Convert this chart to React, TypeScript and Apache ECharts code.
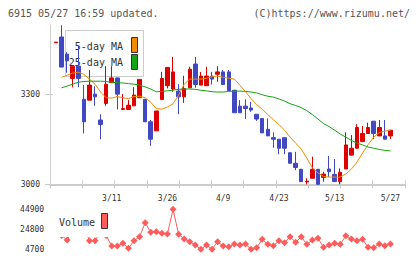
import React, { useEffect, useRef } from 'react';
import * as echarts from 'echarts';

// Trading days shown on the chart
const dates = [
  '2/26', '2/27', '2/28', '2/29', '3/1', '3/4', '3/5', '3/6', '3/7', '3/8',
  '3/11', '3/12', '3/13', '3/14', '3/15', '3/18', '3/19', '3/21', '3/22', '3/25',
  '3/26', '3/27', '3/28', '3/29', '4/1', '4/2', '4/3', '4/4', '4/5', '4/8',
  '4/9', '4/10', '4/11', '4/12', '4/15', '4/16', '4/17', '4/18', '4/19', '4/22',
  '4/23', '4/24', '4/25', '4/26', '4/30', '5/1', '5/7', '5/8', '5/9', '5/10',
  '5/13', '5/14', '5/15', '5/16', '5/17', '5/20', '5/21', '5/22', '5/23', '5/24',
  '5/27',
];
const dateTicks = ['3/11', '3/26', '4/9', '4/23', '5/13', '5/27'];

const opens = [
  3471, 3490, 3433, 3352, 3393, 3283, 3280, 3300, 3214, 3269,
  3338, 3354, 3249, 3249, 3261, 3288, 3283, 3208, 3178, 3282,
  3328, 3317, 3310, 3291, 3321, 3400, 3330, 3328, 3360, 3366,
  3374, 3374, 3313, 3260, 3260, 3254, 3233, 3219, 3183, 3155,
  3150, 3155, 3105, 3070, 3050, 3008, 3020, 3050, 3023, 3051,
  3033, 3009, 3051, 3097, 3120, 3142, 3169, 3210, 3161, 3161,
  3161,
];
const closes = [
  3473, 3390, 3411, 3393, 3352, 3208, 3330, 3291, 3199, 3333,
  3354, 3300, 3252, 3263, 3297, 3349, 3208, 3150, 3244, 3352,
  3389, 3374, 3291, 3319, 3383, 3332, 3360, 3360, 3350, 3374,
  3332, 3311, 3238, 3238, 3252, 3247, 3217, 3171, 3161, 3150,
  3120, 3120, 3070, 3056, 3009, 3010, 3050, 3000, 3034, 3042,
  3009, 3040, 3131, 3120, 3189, 3169, 3189, 3169, 3189, 3150,
  3180,
];
const lows = [
  3471, 3390, 3371, 3323, 3323, 3169, 3280, 3261, 3150, 3261,
  3338, 3249, 3249, 3249, 3261, 3288, 3208, 3128, 3178, 3282,
  3319, 3308, 3233, 3271, 3321, 3321, 3330, 3328, 3332, 3341,
  3332, 3311, 3238, 3238, 3217, 3241, 3211, 3171, 3161, 3122,
  3100, 3100, 3070, 3047, 3009, 3000, 3020, 3000, 3009, 3025,
  3009, 3000, 3051, 3097, 3120, 3142, 3169, 3150, 3161, 3150,
  3151,
];
const highs = [
  3473, 3529, 3440, 3393, 3460, 3330, 3380, 3326, 3233, 3393,
  3393, 3354, 3300, 3280, 3323, 3349, 3283, 3214, 3244, 3374,
  3389, 3424, 3333, 3361, 3391, 3424, 3374, 3391, 3374, 3393,
  3380, 3380, 3313, 3280, 3283, 3274, 3233, 3219, 3219, 3173,
  3150, 3155, 3105, 3108, 3050, 3020, 3092, 3050, 3042, 3094,
  3084, 3053, 3173, 3164, 3200, 3194, 3205, 3210, 3214, 3214,
  3180,
];

const ma5 = [
  null, 3356, 3363, 3370, 3373, 3366, 3350, 3333, 3307, 3288,
  3287, 3292, 3288, 3285, 3292, 3293, 3288, 3273, 3252, 3250,
  3257, 3268, 3297, 3333, 3350, 3350, 3350, 3353, 3358, 3360,
  3356, 3353, 3350, 3330, 3308, 3285, 3265, 3250, 3232, 3215,
  3199, 3180, 3157, 3137, 3117, 3087, 3054, 3038, 3026, 3024,
  3024, 3024, 3034, 3051, 3074, 3104, 3132, 3157, 3172, 3177,
  3180,
];
const ma25 = [
  null, 3321, 3327, 3333, 3340, 3342, 3343, 3343, 3343, 3342,
  3340, 3338, 3337, 3335, 3333, 3330, 3324, 3317, 3308, 3309,
  3311, 3313, 3316, 3317, 3317, 3316, 3313, 3311, 3308, 3307,
  3307, 3309, 3310, 3310, 3309, 3307, 3304, 3298, 3293, 3290,
  3284, 3277, 3268, 3262, 3255, 3245, 3232, 3217, 3202, 3192,
  3180, 3167, 3157, 3146, 3137, 3131, 3124, 3120, 3116, 3113,
  3111,
];
const volume = [
  21000, 18300, 13700, 23800, 22800, 27800, 13000, 13000, 21800, 18300,
  7700, 7700, 10400, 5400, 13000, 17100, 31100, 21500, 22100, 20500,
  19800, 44600, 19500, 14800, 12000, 8700, 4400, 8700, 4400, 12000,
  7700, 7000, 9700, 8700, 9700, 4400, 6000, 14500, 9400, 8000,
  13000, 11000, 17100, 11400, 17100, 9400, 13700, 15500, 6400, 8700,
  10400, 9400, 18100, 14800, 13000, 14500, 6400, 6000, 9700, 8000,
  9700,
];

const priceTicks = [3000, 3300];
const volumeTicks = [4700, 24800, 44900];

const FONT = '"DejaVu Sans Mono", monospace';
const RED = '#dd0000';
const BLUE = '#4048c4';
const ORANGE = '#f08c00';
const GREEN = '#14a514';
const VOL = '#ff5c5c';
const AXIS = '#cccccc';
const LABEL = '#333333';

const PRICE_MIN = 3000;
const PRICE_MAX = 3530;

export default function App() {
  const ref = useRef<HTMLDivElement>(null);

  useEffect(() => {
    const chart = echarts.init(ref.current!, null, { renderer: 'svg', width: 420, height: 259 });
    const candles = dates.map((_, i) => [opens[i], closes[i], lows[i], highs[i]]);
    const labelStyle = { fontFamily: FONT, fontSize: 8, color: LABEL };

    chart.setOption({
      animation: false,
      backgroundColor: '#ffffff',
      textStyle: { fontFamily: FONT },
      grid: [
        { left: 53.2, width: 340, top: 25, height: 159.3 },
        { left: 50, width: 355, top: 25, height: 159.3 },
        { left: 53.2, width: 340, top: 209, height: 40 },
      ],
      xAxis: [
        {
          type: 'category',
          gridIndex: 0,
          data: dates,
          boundaryGap: true,
          axisLine: { show: false },
          axisTick: { show: false },
          splitLine: { show: false },
          axisLabel: {
            ...labelStyle,
            margin: 10,
            interval: (_i: number, v: string) => dateTicks.includes(v),
          },
        },
        {
          type: 'value',
          gridIndex: 1,
          position: 'bottom',
          min: 0,
          max: 11,
          interval: 1,
          axisLine: { show: true, lineStyle: { color: AXIS, width: 2 } },
          axisTick: { show: true, length: 4, lineStyle: { color: AXIS, width: 1 } },
          axisLabel: { show: false },
          splitLine: { show: false },
        },
        {
          type: 'value',
          gridIndex: 1,
          position: 'bottom',
          min: 0,
          max: 11,
          interval: 1,
          axisLine: { show: false },
          axisTick: { show: true, inside: true, length: 4, lineStyle: { color: AXIS, width: 1 } },
          axisLabel: { show: false },
          splitLine: { show: false },
        },
        {
          type: 'category',
          gridIndex: 2,
          data: dates,
          boundaryGap: true,
          show: false,
        },
      ],
      yAxis: [
        { type: 'value', gridIndex: 0, min: PRICE_MIN, max: PRICE_MAX, show: false },
        {
          type: 'value',
          gridIndex: 1,
          position: 'left',
          min: PRICE_MIN,
          max: PRICE_MAX,
          axisLine: { show: true, lineStyle: { color: AXIS, width: 1 } },
          axisTick: { show: true, length: 5, customValues: priceTicks, lineStyle: { color: AXIS } },
          axisLabel: {
            ...labelStyle,
            margin: 10,
            customValues: priceTicks,
            formatter: (v: number) => String(v),
          },
          splitLine: { show: false },
        },
        {
          type: 'value',
          gridIndex: 1,
          position: 'left',
          min: PRICE_MIN,
          max: PRICE_MAX,
          axisLine: { show: false },
          axisTick: { show: true, inside: true, length: 3, customValues: priceTicks, lineStyle: { color: AXIS } },
          axisLabel: { show: false },
          splitLine: { show: false },
        },
        {
          type: 'value',
          gridIndex: 2,
          min: 4700,
          max: 44900,
          axisLine: { show: false },
          axisTick: { show: false },
          splitLine: { show: false },
          axisLabel: {
            ...labelStyle,
            margin: 9,
            customValues: volumeTicks,
            formatter: (v: number) => String(v),
          },
        },
      ],
      series: [
        {
          name: '5-day MA',
          type: 'line',
          xAxisIndex: 0,
          yAxisIndex: 0,
          data: ma5,
          symbol: 'none',
          lineStyle: { color: ORANGE, width: 1 },
          itemStyle: { color: ORANGE },
        },
        {
          name: '25-day MA',
          type: 'line',
          xAxisIndex: 0,
          yAxisIndex: 0,
          data: ma25,
          symbol: 'none',
          lineStyle: { color: GREEN, width: 1 },
          itemStyle: { color: GREEN },
        },
        {
          name: 'Price',
          type: 'candlestick',
          xAxisIndex: 0,
          yAxisIndex: 0,
          data: candles,
          barWidth: 4,
          itemStyle: {
            color: RED,
            color0: BLUE,
            borderColor: RED,
            borderColor0: BLUE,
            borderWidth: 1,
          },
        },
        {
          name: 'Volume',
          type: 'line',
          xAxisIndex: 3,
          yAxisIndex: 3,
          data: volume,
          symbol: 'diamond',
          symbolSize: 7,
          showAllSymbol: true,
          clip: false,
          lineStyle: { color: VOL, width: 1 },
          itemStyle: { color: VOL },
        },
      ],
      graphic: [
        {
          type: 'text',
          x: 8,
          y: 13,
          style: { text: '6915 05/27 16:59 updated.', font: `10px ${FONT}`, fill: '#555', align: 'left', verticalAlign: 'middle' },
        },
        {
          type: 'text',
          x: 410,
          y: 13,
          style: { text: '(C)https://www.rizumu.net/', font: `10px ${FONT}`, fill: '#555', align: 'right', verticalAlign: 'middle' },
        },
        // price legend, sitting beneath the candles
        {
          type: 'rect',
          z: 1,
          shape: { x: 65.5, y: 30.5, width: 78, height: 46 },
          style: { fill: '#ffffff', stroke: AXIS, lineWidth: 1 },
        },
        {
          type: 'text',
          z: 1,
          x: 123,
          y: 46,
          style: { text: '5-day MA', font: `10px ${FONT}`, fill: LABEL, align: 'right', verticalAlign: 'middle' },
        },
        {
          type: 'rect',
          z: 1,
          shape: { x: 131.5, y: 37.5, width: 6, height: 15 },
          style: { fill: ORANGE, stroke: '#333', lineWidth: 1 },
        },
        {
          type: 'text',
          z: 1,
          x: 123,
          y: 62.5,
          style: { text: '25-day MA', font: `10px ${FONT}`, fill: LABEL, align: 'right', verticalAlign: 'middle' },
        },
        {
          type: 'rect',
          z: 1,
          shape: { x: 131.5, y: 54.5, width: 6, height: 15 },
          style: { fill: GREEN, stroke: '#333', lineWidth: 1 },
        },
        // volume legend, drawn over the volume line
        {
          type: 'rect',
          z: 50,
          shape: { x: 51, y: 203, width: 59, height: 34 },
          style: { fill: '#ffffff' },
        },
        {
          type: 'text',
          z: 51,
          x: 95,
          y: 222,
          style: { text: 'Volume', font: `10px ${FONT}`, fill: LABEL, align: 'right', verticalAlign: 'middle' },
        },
        {
          type: 'rect',
          z: 51,
          shape: { x: 101.5, y: 213.5, width: 6, height: 15 },
          style: { fill: VOL, stroke: '#333', lineWidth: 1 },
        },
      ],
    });

    return () => chart.dispose();
  }, []);

  return (
    <div
      ref={ref}
      style={{ position: 'fixed', left: 0, top: 0, width: 420, height: 259, background: '#fff' }}
    />
  );
}
